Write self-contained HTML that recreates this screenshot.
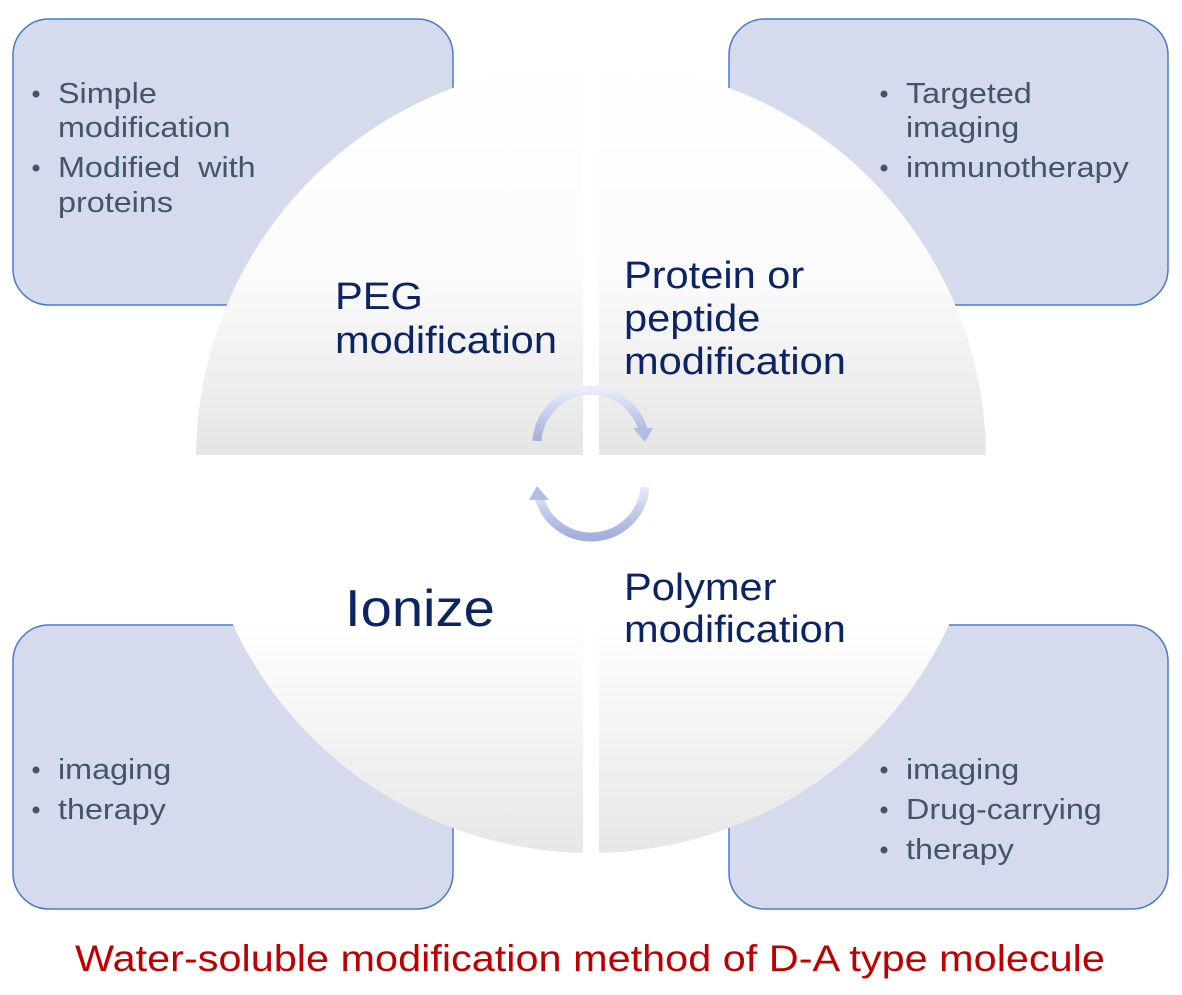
<!DOCTYPE html>
<html><head><meta charset="utf-8"><style>
html,body{margin:0;padding:0;background:#fff;}
svg{display:block;font-family:"Liberation Sans",Arial,sans-serif;}
</style></head><body>
<svg width="1182" height="995" viewBox="0 0 1182 995" xmlns="http://www.w3.org/2000/svg">
<defs>
<linearGradient id="top" x1="0" y1="0" x2="0" y2="1">
<stop offset="0" stop-color="#ffffff"/><stop offset="0.55" stop-color="#fbfbfb"/><stop offset="1" stop-color="#e5e5e5"/>
</linearGradient>
<linearGradient id="bot" x1="0" y1="0" x2="0" y2="1">
<stop offset="0" stop-color="#ffffff"/><stop offset="0.4" stop-color="#ffffff"/><stop offset="1" stop-color="#e6e6e6"/>
</linearGradient>
<linearGradient id="arr" x1="0" y1="0" x2="0" y2="1">
<stop offset="0" stop-color="#e8ecf8"/><stop offset="0.5" stop-color="#c3cbea"/><stop offset="1" stop-color="#a3afdc"/>
</linearGradient>
<clipPath id="circ"><circle cx="591" cy="458" r="395"/></clipPath>
</defs>
<g fill="#d5daec" stroke="#4a7bc8" stroke-width="1.5">
<rect x="13" y="19" width="440" height="286" rx="36"/>
<rect x="729" y="19" width="439" height="286" rx="36"/>
<rect x="13" y="625" width="440" height="284" rx="36"/>
<rect x="729" y="625" width="439" height="284" rx="36"/>
</g>
<g clip-path="url(#circ)">
<rect x="190" y="60" width="393" height="395" fill="url(#top)"/>
<rect x="599" y="60" width="393" height="395" fill="url(#top)"/>
<rect x="190" y="460" width="393" height="400" fill="url(#bot)"/>
<rect x="599" y="460" width="393" height="400" fill="url(#bot)"/>
</g>
<path d="M537,441 A54,54 0 0 1 643,430" fill="none" stroke="url(#arr)" stroke-width="9"/>
<polygon points="633,428 653,428 645,442" fill="#b3bde4"/>
<path d="M645,487 A54,54 0 0 1 539,497" fill="none" stroke="url(#arr)" stroke-width="9"/>
<polygon points="529,500 549,500 537,486" fill="#b3bde4"/>
<g fill="#44546a" font-size="29">
<g transform="matrix(1.115,0,0,1,-6.67,0)">
<text x="58" y="103">Simple</text><text x="58" y="137">modification</text>
<text x="58" y="177">Modified&#160; with</text><text x="58" y="212">proteins</text>
<text x="58" y="779">imaging</text><text x="58" y="819">therapy</text>
</g>
<g transform="matrix(1.115,0,0,1,-104.2,0)">
<text x="906" y="103">Targeted</text><text x="906" y="137">imaging</text><text x="906" y="177">immunotherapy</text>
<text x="906" y="779">imaging</text><text x="906" y="819">Drug-carrying</text><text x="906" y="859">therapy</text>
</g>
</g>
<g fill="#44546a">
<circle cx="36" cy="94" r="3.5"/><circle cx="36" cy="168" r="3.5"/>
<circle cx="884" cy="94" r="3.5"/><circle cx="884" cy="168" r="3.5"/>
<circle cx="36" cy="770" r="3.5"/><circle cx="36" cy="810" r="3.5"/>
<circle cx="884" cy="770" r="3.5"/><circle cx="884" cy="810" r="3.5"/><circle cx="884" cy="850" r="3.5"/>
</g>
<g fill="#0c2463" font-size="38">
<g transform="matrix(1.095,0,0,1,-31.8,0)">
<text x="335" y="309">PEG</text><text x="335" y="353">modification</text>
</g>
<g transform="matrix(1.095,0,0,1,-59.3,0)">
<text x="624" y="288">Protein or</text><text x="624" y="331">peptide</text><text x="624" y="374">modification</text>
<text x="624" y="600">Polymer</text><text x="624" y="642">modification</text>
</g>
<g transform="matrix(1.08,0,0,1,-27.6,0)">
<text x="345" y="626" font-size="52">Ionize</text>
</g>
</g>
<g transform="matrix(1.12,0,0,1,-70.8,0)">
<text x="590" y="971" text-anchor="middle" fill="#c00000" font-size="37">Water-soluble modification method of D-A type molecule</text>
</g>
</svg>
</body></html>
